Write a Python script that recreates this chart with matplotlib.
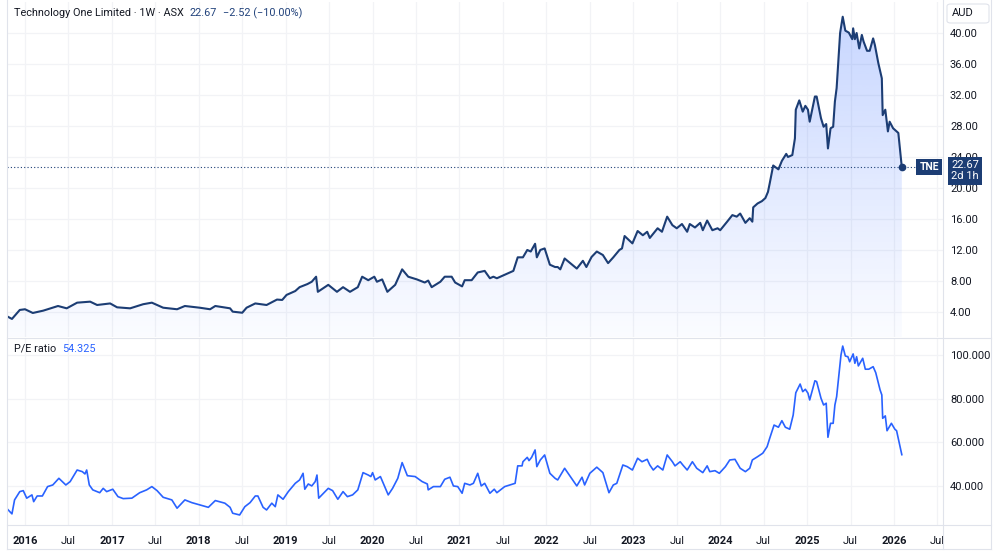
import numpy as np
import matplotlib
matplotlib.use("Agg")
from matplotlib import pyplot as plt
from matplotlib import transforms as mtransforms
from matplotlib.patches import Polygon, Rectangle, FancyBboxPatch
from matplotlib.colors import LinearSegmentedColormap

# Weekly TNE price (AUD), sampled, time in decimal years
price_t = [2015.80, 2015.85, 2015.94, 2016.00, 2016.09, 2016.21, 2016.38, 2016.48, 2016.60, 2016.75,
           2016.83, 2016.98, 2017.06, 2017.21, 2017.36, 2017.46, 2017.59, 2017.75, 2017.84, 2018.01,
           2018.13, 2018.19, 2018.36, 2018.39, 2018.50, 2018.55, 2018.65, 2018.78, 2018.90, 2018.96,
           2019.01, 2019.11, 2019.16, 2019.25, 2019.30, 2019.35, 2019.37, 2019.49, 2019.59, 2019.66,
           2019.74, 2019.83, 2019.88, 2019.95, 2020.02, 2020.05, 2020.11, 2020.17, 2020.26, 2020.34,
           2020.41, 2020.51, 2020.60, 2020.64, 2020.68, 2020.78, 2020.83, 2020.91, 2020.95, 2021.03,
           2021.06, 2021.14, 2021.21, 2021.29, 2021.35, 2021.39, 2021.43, 2021.52, 2021.62, 2021.67,
           2021.73, 2021.78, 2021.82, 2021.87, 2021.89, 2021.93, 2021.98, 2022.04, 2022.10, 2022.13,
           2022.16, 2022.21, 2022.27, 2022.35, 2022.42, 2022.46, 2022.52, 2022.58, 2022.65, 2022.71,
           2022.77, 2022.84, 2022.87, 2022.90, 2022.99, 2023.05, 2023.11, 2023.16, 2023.19, 2023.28,
           2023.33, 2023.39, 2023.45, 2023.50, 2023.56, 2023.62, 2023.65, 2023.71, 2023.77, 2023.80,
           2023.85, 2023.91, 2023.97, 2024.00, 2024.08, 2024.14, 2024.19, 2024.23, 2024.29, 2024.34,
           2024.37, 2024.38, 2024.43, 2024.48, 2024.52, 2024.55, 2024.57, 2024.61, 2024.67, 2024.71,
           2024.76, 2024.78, 2024.83, 2024.86, 2024.87, 2024.91, 2024.95, 2024.98, 2025.01, 2025.03,
           2025.09, 2025.11, 2025.16, 2025.19, 2025.22, 2025.24, 2025.27, 2025.30, 2025.32, 2025.34,
           2025.38, 2025.41, 2025.44, 2025.48, 2025.52, 2025.53, 2025.55, 2025.57, 2025.60, 2025.63,
           2025.65, 2025.69, 2025.72, 2025.76, 2025.78, 2025.82, 2025.86, 2025.87, 2025.90, 2025.93,
           2025.95, 2025.99, 2026.05, 2026.09]
price = [3.40, 3.10, 4.26, 4.35, 3.87, 4.17, 4.77, 4.47, 5.20, 5.33,
         4.90, 5.10, 4.60, 4.47, 5.00, 5.20, 4.55, 4.35, 4.77, 4.55,
         4.35, 4.77, 4.47, 4.04, 3.90, 4.55, 5.10, 4.90, 5.60, 5.55,
         6.20, 6.70, 7.20, 7.60, 7.90, 8.55, 6.60, 7.50, 6.60, 7.20,
         6.60, 7.20, 8.55, 8.10, 8.55, 7.90, 8.20, 6.60, 7.50, 9.50,
         8.55, 8.20, 7.80, 8.05, 7.20, 7.90, 8.55, 8.55, 7.80, 7.30,
         8.10, 8.10, 9.10, 9.30, 8.35, 8.55, 8.35, 8.80, 9.30, 11.05,
         11.05, 12.00, 11.80, 12.80, 11.05, 12.00, 12.20, 10.10, 9.80, 9.80,
         9.50, 10.90, 10.35, 9.60, 10.60, 9.80, 11.10, 11.80, 11.35, 10.30,
         11.05, 12.00, 12.20, 13.80, 12.85, 14.45, 13.90, 14.35, 13.55, 14.80,
         14.35, 16.30, 15.20, 14.80, 15.35, 14.35, 15.35, 14.90, 15.50, 14.55,
         15.80, 14.55, 14.80, 14.55, 15.65, 16.50, 16.30, 16.70, 15.50, 16.10,
         15.65, 17.50, 18.00, 18.30, 18.70, 19.50, 20.60, 22.90, 22.40, 23.50,
         24.40, 24.00, 24.25, 26.40, 30.10, 31.30, 29.85, 30.60, 30.10, 28.55,
         31.80, 31.80, 29.00, 27.90, 28.25, 25.10, 27.70, 27.90, 31.15, 32.90,
         40.00, 42.10, 40.30, 40.05, 39.20, 40.60, 39.20, 40.00, 38.00, 39.75,
         38.90, 37.70, 37.70, 39.30, 38.45, 36.10, 34.15, 29.40, 30.10, 27.30,
         28.55, 27.70, 27.10, 22.67]

# P/E ratio
pe_t = [2015.80, 2015.85, 2015.88, 2015.94, 2015.98, 2016.02, 2016.08, 2016.10, 2016.14, 2016.20,
        2016.26, 2016.32, 2016.39, 2016.47, 2016.52, 2016.60, 2016.66, 2016.69, 2016.71, 2016.74,
        2016.78, 2016.86, 2016.90, 2016.94, 2017.01, 2017.07, 2017.13, 2017.23, 2017.32, 2017.40,
        2017.46, 2017.52, 2017.59, 2017.69, 2017.75, 2017.84, 2017.92, 2018.05, 2018.11, 2018.19,
        2018.30, 2018.36, 2018.39, 2018.47, 2018.53, 2018.59, 2018.65, 2018.68, 2018.74, 2018.78,
        2018.84, 2018.88, 2018.91, 2018.97, 2019.03, 2019.11, 2019.16, 2019.20, 2019.22, 2019.26,
        2019.30, 2019.34, 2019.36, 2019.38, 2019.49, 2019.54, 2019.60, 2019.66, 2019.71, 2019.77,
        2019.83, 2019.89, 2019.95, 2019.98, 2020.00, 2020.03, 2020.09, 2020.18, 2020.23, 2020.29,
        2020.34, 2020.40, 2020.49, 2020.57, 2020.63, 2020.64, 2020.70, 2020.78, 2020.83, 2020.89,
        2020.93, 2020.98, 2021.03, 2021.06, 2021.12, 2021.16, 2021.21, 2021.25, 2021.29, 2021.35,
        2021.40, 2021.43, 2021.52, 2021.58, 2021.64, 2021.67, 2021.72, 2021.73, 2021.78, 2021.80,
        2021.83, 2021.87, 2021.89, 2021.93, 2021.98, 2022.04, 2022.10, 2022.13, 2022.21, 2022.27,
        2022.35, 2022.41, 2022.44, 2022.50, 2022.58, 2022.65, 2022.72, 2022.77, 2022.81, 2022.88,
        2022.93, 2022.99, 2023.05, 2023.10, 2023.16, 2023.19, 2023.23, 2023.28, 2023.34, 2023.39,
        2023.45, 2023.48, 2023.54, 2023.57, 2023.62, 2023.68, 2023.73, 2023.80, 2023.85, 2023.88,
        2023.94, 2023.99, 2024.06, 2024.11, 2024.17, 2024.23, 2024.29, 2024.34, 2024.37, 2024.43,
        2024.49, 2024.54, 2024.57, 2024.62, 2024.67, 2024.71, 2024.75, 2024.80, 2024.84, 2024.87,
        2024.92, 2024.95, 2024.98, 2025.01, 2025.03, 2025.09, 2025.11, 2025.16, 2025.19, 2025.22,
        2025.24, 2025.27, 2025.30, 2025.32, 2025.34, 2025.39, 2025.41, 2025.44, 2025.47, 2025.49,
        2025.53, 2025.55, 2025.57, 2025.59, 2025.64, 2025.67, 2025.71, 2025.76, 2025.79, 2025.84,
        2025.86, 2025.87, 2025.90, 2025.92, 2025.97, 2026.01, 2026.03, 2026.09]
pe = [29.3, 27.2, 33.6, 37.4, 37.85, 34.4, 35.9, 32.8, 35.4, 35.4,
      39.7, 40.45, 43.5, 40.45, 42.0, 47.3, 46.55, 45.5, 47.3, 40.45,
      38.2, 36.9, 38.9, 37.4, 38.5, 35.1, 34.2, 34.4, 36.9, 38.2,
      39.7, 37.85, 34.8, 33.6, 29.8, 33.6, 32.35, 30.85, 30.2, 33.3,
      32.1, 30.2, 27.5, 26.7, 30.5, 32.35, 35.4, 35.4, 30.2, 29.0,
      32.1, 30.5, 35.9, 33.9, 37.4, 41.2, 42.75, 45.8, 38.5, 40.9,
      40.0, 42.0, 45.0, 34.4, 38.9, 37.85, 33.9, 37.4, 35.1, 35.9,
      38.2, 46.1, 45.0, 44.3, 46.1, 42.75, 44.3, 35.9, 38.9, 43.5,
      50.7, 44.7, 44.3, 42.0, 40.9, 38.2, 39.7, 39.7, 43.05, 44.0,
      40.0, 39.7, 36.65, 41.2, 40.45, 41.2, 45.8, 40.0, 41.2, 36.65,
      38.5, 36.9, 39.7, 40.45, 41.2, 49.2, 49.2, 51.1, 53.1, 51.6,
      53.1, 56.5, 48.85, 51.9, 54.2, 45.8, 43.5, 42.75, 48.1, 44.6,
      40.0, 44.0, 40.45, 45.8, 48.6, 46.1, 36.9, 40.45, 41.2, 49.6,
      48.85, 47.3, 52.7, 51.1, 52.2, 49.6, 47.3, 49.2, 47.3, 54.2,
      51.1, 49.2, 51.1, 49.6, 47.3, 51.1, 48.1, 46.1, 49.2, 46.55,
      47.0, 45.8, 48.85, 51.9, 52.2, 48.1, 46.55, 48.1, 51.9, 53.4,
      55.0, 58.0, 61.85, 67.9, 66.9, 69.9, 66.9, 66.0, 72.5, 82.7,
      86.7, 83.2, 84.3, 82.5, 79.4, 88.2, 87.8, 80.2, 77.1, 77.9,
      62.3, 68.7, 68.7, 77.1, 80.9, 100.0, 104.1, 99.55, 99.2, 96.9,
      100.5, 96.2, 99.2, 95.0, 98.5, 93.5, 93.5, 94.65, 91.9, 84.0,
      81.7, 71.0, 72.1, 65.3, 68.7, 66.0, 65.3, 54.325]

years = list(range(2016, 2027))
price_ticks = [4, 8, 12, 16, 20, 24, 28, 32, 36, 40]
pe_ticks = [40, 60, 80, 100]

NAVY = "#1c3d74"
BLUE = "#2962ff"
TXT = "#131722"
GRID = "#f2f3f6"
BORDER = "#e0e3eb"

plt.rcParams["font.family"] = ["Roboto", "DejaVu Sans"]

fig = plt.figure(figsize=(10, 5.52), dpi=100)
ax1 = fig.add_axes([0.007, 0.3895, 0.936, 0.6069])
ax2 = fig.add_axes([0.007, 0.0489, 0.936, 0.3388])

xlo, xhi = 2015.793, 2026.564
xt = []
xl = []
for y in years:
    xt += [y, y + 0.5]
    xl += [str(y), "Jul"]

for ax in (ax1, ax2):
    ax.set_xlim(xlo, xhi)
    for s in ax.spines.values():
        s.set_visible(False)
    ax.set_xticks(xt)
    ax.grid(True, color=GRID, lw=0.9)
    ax.set_axisbelow(True)
    ax.yaxis.tick_right()
    ax.tick_params(length=0, labelsize=8, labelcolor=TXT)
    ax.tick_params(axis="y", pad=5)
ax1.set_xticklabels([])
ax2.set_xticklabels(xl)
ax2.tick_params(axis="x", pad=8)
for lbl in ax2.get_xticklabels():
    if lbl.get_text() != "Jul":
        lbl.set_fontweight("bold")

# price pane
ymin, ymax = 0.77, 44.0
ax1.set_yticks(price_ticks)
ax1.set_yticklabels(["{:.2f}".format(v) for v in price_ticks])
ax1.plot(price_t, price, color=NAVY, lw=1.5, zorder=3, solid_joinstyle="round")
verts = list(zip(price_t, price)) + [(price_t[-1], ymin), (price_t[0], ymin)]
poly = Polygon(verts, closed=True, facecolor="none", edgecolor="none")
ax1.add_patch(poly)
cmap = LinearSegmentedColormap.from_list(
    "fade", [(41 / 255, 98 / 255, 1, 0.02), (41 / 255, 98 / 255, 1, 0.27)])
grad = np.linspace(1, 0, 256).reshape(-1, 1)
img = ax1.imshow(grad, extent=[xlo, xhi, ymin, ymax], aspect="auto", cmap=cmap,
                 origin="upper", zorder=1)
img.set_clip_path(poly)
ax1.set_xlim(xlo, xhi)
ax1.set_ylim(ymin, ymax)
last = price[-1]
ax1.axhline(last, color=NAVY, lw=0.8, ls=(0, (1, 2)), zorder=2)
ax1.plot([price_t[-1]], [last], "o", color=NAVY, ms=4.5, zorder=4)

blend = mtransforms.blended_transform_factory(ax1.transAxes, ax1.transData)
ax1.annotate("TNE", xy=(1.0, last), xycoords=blend, xytext=(-4, 0),
             textcoords="offset pixels", ha="right", va="center", fontsize=7.5,
             fontweight="bold", color="white", annotation_clip=False, zorder=6,
             bbox=dict(boxstyle="square,pad=0.3", fc=NAVY, ec="none"))
ax1.annotate("{:.2f}\n2d 1h".format(last), xy=(1.0235, last), xycoords=blend,
             xytext=(0, 7), textcoords="offset pixels", ha="center", va="top",
             fontsize=8, color="white", linespacing=1.15, annotation_clip=False, zorder=6,
             bbox=dict(boxstyle="square,pad=0.3", fc=NAVY, ec="none"))

# P/E pane
ax2.plot(pe_t, pe, color=BLUE, lw=1.2, zorder=3)
ax2.set_ylim(22.1, 107.8)
ax2.set_yticks(pe_ticks)
ax2.set_yticklabels(["{:.3f}".format(v) for v in pe_ticks])

# header texts, each one placed right after the previous
def chain(ax, first, parts, gap=6):
    prev = first
    for txt, col in parts:
        prev = ax.annotate(txt, xy=(1, 0.5), xycoords=prev, xytext=(gap, 0),
                           textcoords="offset pixels", ha="left", va="center",
                           fontsize=7.8, color=col, annotation_clip=False)

hdr = ax1.text(0.014, 1 - 13 / 552, "Technology One Limited \u00b7 1W \u00b7 ASX",
               transform=fig.transFigure, fontsize=7.8, color=TXT, va="center")
chain(ax1, hdr, [("{:.2f}".format(last), "#22437c"), ("\u22122.52 (\u221210.00%)", "#22437c")])
pel = ax2.text(0.014, 1 - 349 / 552, "P/E ratio", transform=fig.transFigure,
               fontsize=7.8, color=TXT, va="center")
chain(ax2, pel, [("{:.3f}".format(pe[-1]), BLUE)])

# AUD box
fig.add_artist(FancyBboxPatch((0.947, 1 - 23 / 552), 0.042, 19 / 552,
                              boxstyle="round,pad=0,rounding_size=0.004",
                              transform=fig.transFigure, fc="white", ec=BORDER, lw=0.8))
fig.text(0.952, 1 - 13.5 / 552, "AUD", fontsize=8, color=TXT, va="center")

# cover the price-scale column under the time axis, then frame lines
fig.add_artist(Rectangle((0.9435, 0.0), 0.056, 27 / 552, transform=fig.transFigure,
                         fc="white", ec="none", zorder=5))
for (xa, ya, xb, yb) in [(0.943, 0.006, 0.943, 1.0), (0.991, 0.006, 0.991, 1.0),
                         (0.007, 1 - 337.5 / 552, 0.991, 1 - 337.5 / 552),
                         (0.007, 27 / 552, 0.991, 27 / 552),
                         (0.007, 0.006, 0.991, 0.006),
                         (0.007, 0.006, 0.007, 1.0)]:
    fig.add_artist(plt.Line2D([xa, xb], [ya, yb], transform=fig.transFigure,
                              color=BORDER, lw=0.8, zorder=7))

fig.savefig("out.png", dpi=100)
